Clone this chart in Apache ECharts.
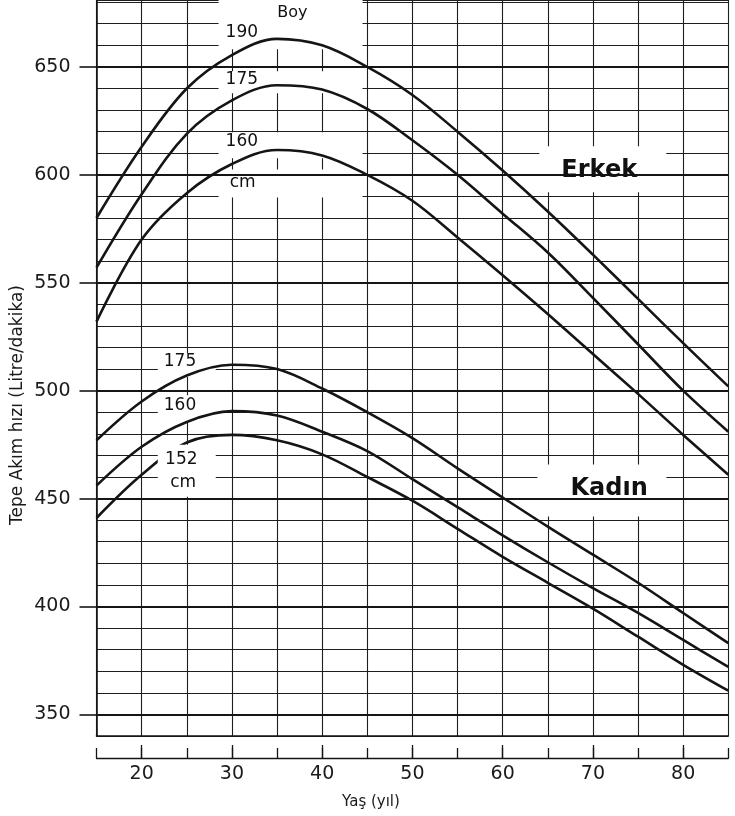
<!DOCTYPE html>
<html>
<head>
<meta charset="utf-8">
<script src="https://cdn.jsdelivr.net/npm/echarts@6/dist/echarts.min.js"></script>
<style>
html,body{margin:0;padding:0;background:#ffffff;}
#chart{width:735px;height:816px;}
</style>
</head>
<body>
<div id="chart"></div>
<script>
// ---- data ----
const ages = [15, 20, 25, 30, 35, 40, 45, 50, 55, 60, 65, 70, 75, 80, 85];

// Erkek (men), heights 190 / 175 / 160 cm
const erkek190 = [580, 613, 640, 655.5, 663, 660, 650, 637, 620, 602, 583, 563, 542.5, 522, 502];
const erkek175 = [557, 591, 619, 634.5, 641.5, 639.5, 630.5, 616, 600, 582, 564, 543, 521.5, 500, 481];
const erkek160 = [532, 570, 591.5, 605, 611.5, 609, 600, 588, 571, 553.5, 535.5, 517, 498.5, 479.5, 461];

// Kadın (women), heights 175 / 160 / 152 cm
const kadin175 = [477, 495, 507, 512, 510, 501, 490, 478, 464, 450.5, 437, 424, 411, 397, 383];
const kadin160 = [456, 474, 485.5, 490.5, 488.5, 481, 472, 459, 446, 433, 420.5, 408.5, 397, 384.5, 372];
const kadin152 = [441, 461, 476, 479.5, 477, 470.5, 460, 449, 436, 423, 411, 399, 386, 373, 361];

const yTickLabels = [350, 400, 450, 500, 550, 600, 650];
const xTickLabels = [20, 30, 40, 50, 60, 70, 80];

// annotation texts, anchored in data coordinates [age, flow]
const annoNames = ['Boy', '190', '175', '160', 'cm', '175', '160', '152', 'cm', 'Erkek', 'Kadın'];
const annoAges  = [36.7, 31.1, 31.1, 31.1, 31.2, 24.25, 24.25, 24.4, 24.6, 70.7, 71.8];
const annoFlows = [675.2, 665.9, 644.3, 615.3, 596.4, 513.5, 493.1, 468.0, 457.3, 601.9, 454.4];

// white label backgrounds (centre in data coordinates)
const boxAges  = [36.5, 36.5, 36.5, 36.5, 25.0, 25.0, 71.1, 71.0];
const boxFlows = [669.8, 642.9, 613.75, 596.0, 511.9, 491.8, 602.6, 453.8];
const topBoxAges = [25.0];
const topBoxFlows = [462.9];

// ---- styles ----
const FONT = 'DejaVu Sans';
const INK = '#151515';
const boxSizes = [[144, 50], [144, 22], [144, 26], [144, 28], [58, 24], [58, 26], [127, 46], [129, 52]];
const topBoxSizes = [[58, 52]];
const annoStyles = [
  {fontSize: 16}, {fontSize: 17}, {fontSize: 17}, {fontSize: 17}, {fontSize: 17},
  {fontSize: 17}, {fontSize: 17}, {fontSize: 17}, {fontSize: 17},
  {fontSize: 24, fontWeight: 'bold'}, {fontSize: 24, fontWeight: 'bold'}
];

const chart = echarts.init(document.getElementById('chart'), null, {renderer: 'canvas'});

function curve(values, name) {
  return {
    type: 'line', name: name,
    data: ages.map((a, i) => [a, values[i]]),
    smooth: 0.35, symbol: 'none', silent: true, z: 3,
    lineStyle: {color: INK, width: 2.6}
  };
}

const labelBase = {show: true, position: 'inside', formatter: '{b}', color: '#111111', fontFamily: FONT, opacity: 1};

const option = {
  animation: false,
  backgroundColor: '#ffffff',
  grid: {left: 96.5, right: 6.7, top: 0, bottom: 80, containLabel: false, outerBoundsMode: 'none'},
  xAxis: [
    {
      type: 'value', min: 15, max: 85, interval: 5, position: 'bottom',
      axisLine: {show: true, onZero: false, lineStyle: {color: INK, width: 1.6}},
      axisTick: {show: false}, axisLabel: {show: false},
      splitLine: {show: true, lineStyle: {color: '#1e1e1e', width: 1.1}}
    },
    {
      type: 'value', min: 15, max: 85, interval: 5, position: 'bottom', offset: 22,
      axisLine: {show: true, onZero: false, lineStyle: {color: INK, width: 1.3}},
      axisTick: {show: true, inside: true, length: 10, lineStyle: {color: INK, width: 1.3}},
      axisLabel: {show: true, customValues: xTickLabels, margin: 7, fontSize: 19, fontFamily: FONT, color: '#1a1a1a'},
      splitLine: {show: false}
    },
    {
      type: 'value', min: 15, max: 85, interval: 5, position: 'bottom', offset: 22,
      axisLine: {show: false},
      axisTick: {show: true, inside: true, length: 13, customValues: xTickLabels, lineStyle: {color: INK, width: 1.3}},
      axisLabel: {show: false},
      splitLine: {show: false}
    }
  ],
  yAxis: [
    {
      type: 'value', min: 340, max: 681, interval: 10, position: 'left',
      axisLine: {show: true, onZero: false, lineStyle: {color: INK, width: 1.6}},
      axisTick: {show: false}, axisLabel: {show: false},
      splitLine: {show: true, lineStyle: {color: '#1e1e1e', width: 1.1}}
    },
    {
      type: 'value', min: 340, max: 681, interval: 10, position: 'left',
      axisLine: {show: false},
      axisTick: {show: true, customValues: yTickLabels, length: 17, lineStyle: {color: INK, width: 1.6}},
      axisLabel: {show: true, customValues: yTickLabels, margin: 26, fontSize: 19, fontFamily: FONT, color: '#1a1a1a'},
      splitLine: {show: false}
    }
  ],
  graphic: [
    {
      type: 'text', x: 18, y: 405, rotation: Math.PI / 2, silent: true,
      style: {text: 'Tepe Akım hızı (Litre/dakika)', align: 'center', verticalAlign: 'middle',
              font: '17px "DejaVu Sans"', fill: '#1a1a1a'}
    },
    {
      type: 'text', x: 371, y: 802, silent: true,
      style: {text: 'Yaş (yıl)', align: 'center', verticalAlign: 'middle',
              font: '15px "DejaVu Sans"', fill: '#1a1a1a'}
    }
  ],
  series: [
    // heavier major horizontal grid lines
    {
      type: 'line', data: [], silent: true, z: 1,
      markLine: {
        silent: true, symbol: ['none', 'none'], label: {show: false},
        lineStyle: {color: INK, width: 1.8, type: 'solid'},
        data: yTickLabels.map(v => ({yAxis: v}))
      }
    },
    // white label backgrounds below the curves
    {
      type: 'scatter', silent: true, z: 2, symbol: 'rect',
      itemStyle: {color: '#ffffff', opacity: 1},
      data: boxAges.map((a, i) => ({value: [a, boxFlows[i]], symbolSize: boxSizes[i]}))
    },
    curve(erkek190, 'Erkek 190'),
    curve(erkek175, 'Erkek 175'),
    curve(erkek160, 'Erkek 160'),
    curve(kadin175, 'Kadın 175'),
    curve(kadin160, 'Kadın 160'),
    curve(kadin152, 'Kadın 152'),
    // white background above the 152 curve (gap in the line)
    {
      type: 'scatter', silent: true, z: 4, symbol: 'rect',
      itemStyle: {color: '#ffffff', opacity: 1},
      data: topBoxAges.map((a, i) => ({value: [a, topBoxFlows[i]], symbolSize: topBoxSizes[i]}))
    },
    // annotation texts
    {
      type: 'scatter', silent: true, z: 5, symbol: 'rect', symbolSize: 1,
      itemStyle: {color: 'rgba(255,255,255,0)', opacity: 1},
      label: labelBase,
      data: annoNames.map((n, i) => ({
        name: n, value: [annoAges[i], annoFlows[i]],
        label: Object.assign({}, labelBase, annoStyles[i])
      }))
    }
  ]
};

chart.setOption(option);
</script>
</body>
</html>
